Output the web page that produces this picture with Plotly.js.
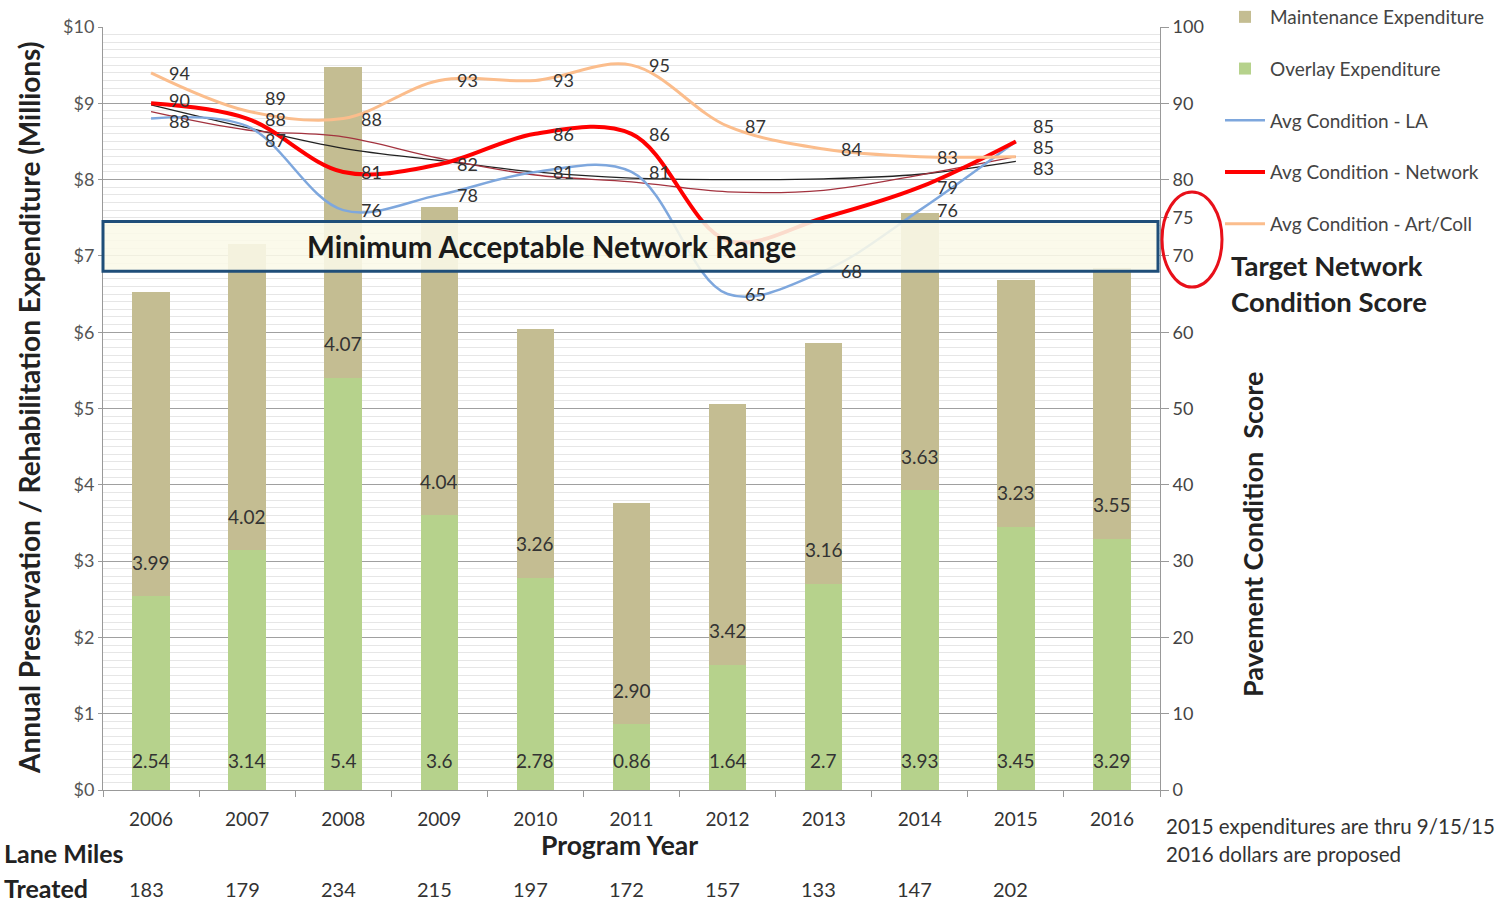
<!DOCTYPE html>
<html>
<head>
<meta charset="utf-8">
<script src="https://cdn.plot.ly/plotly-3.0.1.min.js"></script>
<style>
html,body{margin:0;padding:0;background:#fff;}
#chart{width:1499px;height:905px;}
</style>
</head>
<body>
<div id="chart"></div>
<script>
// ---- data ----
const years = ['2006','2007','2008','2009','2010','2011','2012','2013','2014','2015','2016'];
const overlayExp = [2.54, 3.14, 5.4, 3.6, 2.78, 0.86, 1.64, 2.7, 3.93, 3.45, 3.29];
const maintenanceExp = [3.99, 4.02, 4.07, 4.04, 3.26, 2.90, 3.42, 3.16, 3.63, 3.23, 3.55];

const lineYears = ['2006','2007','2008','2009','2010','2011','2012','2013','2014','2015'];
const condLA = [88, 87, 76, 78, 81, 81, 65, 68, 76, 85];
const condNetwork = [90, 88, 81, 82, 86, 86, 72, 75, 79, 85];
const condArtColl = [94, 89, 88, 93, 93, 95, 87, 84, 83, 83];
const trendA = [89.8, 86.8, 84.1, 82.5, 81.0, 80.2, 80.0, 80.1, 80.7, 82.4];
const trendB = [88.9, 86.5, 85.6, 82.8, 80.6, 79.7, 78.4, 78.6, 80.6, 83.0];

const laneMiles = [183, 179, 234, 215, 197, 172, 157, 133, 147, 202];
const leftTicks = [0,1,2,3,4,5,6,7,8,9,10];
const leftTickText = ['$0','$1','$2','$3','$4','$5','$6','$7','$8','$9','$10'];
const rightTicks = [0,10,20,30,40,50,60,70,75,80,90,100];
const rangeLow = 68, rangeHigh = 74.5;

const FONT = 'Lato, "Open Sans", sans-serif';

const traces = [
  {type:'bar', name:'Overlay Expenditure', x:years, y:overlayExp,
   marker:{color:'#b6d28c'}, legendrank:2, legendgroup:'g2', hoverinfo:'skip'},
  {type:'bar', name:'Maintenance Expenditure', x:years, y:maintenanceExp,
   marker:{color:'#c4bd92'}, legendrank:1, legendgroup:'g1', hoverinfo:'skip'},
  {type:'scatter', mode:'lines', x:lineYears, y:trendA, yaxis:'y2', showlegend:false,
   line:{color:'#222', width:1.3, shape:'spline'}, hoverinfo:'skip'},
  {type:'scatter', mode:'lines', x:lineYears, y:trendB, yaxis:'y2', showlegend:false,
   line:{color:'#a3323e', width:1.3, shape:'spline'}, hoverinfo:'skip'},
  {type:'scatter', mode:'lines', name:'Avg Condition - LA', x:lineYears, y:condLA, yaxis:'y2',
   line:{color:'#7ea7dd', width:2.5, shape:'spline'}, legendrank:3, legendgroup:'g3'},
  {type:'scatter', mode:'lines', name:'Avg Condition - Network', x:lineYears, y:condNetwork, yaxis:'y2',
   line:{color:'#ff0000', width:4, shape:'spline'}, legendrank:4, legendgroup:'g4'},
  {type:'scatter', mode:'lines', name:'Avg Condition - Art/Coll', x:lineYears, y:condArtColl, yaxis:'y2',
   line:{color:'#fbbd8c', width:3, shape:'spline'}, legendrank:5, legendgroup:'g5'}
];

const W = 1057, H = 763, L = 103, T = 27;
const px = x => (x - L) / W;
const py = y => (T + H - y) / H;
const pxPerUnit2 = H / 100;

const annotations = [];
function txt(o){ return Object.assign({showarrow:false, xanchor:'center', yanchor:'middle'}, o); }

// bar value labels (near base of each segment)
overlayExp.forEach((v, i) => {
  annotations.push(txt({x:i, y:0, xref:'x', yref:'y', text:String(v), yshift:30,
    font:{size:19, color:'#333', family:FONT}}));
});
maintenanceExp.forEach((v, i) => {
  annotations.push(txt({x:i, y:overlayExp[i], xref:'x', yref:'y', text:v.toFixed(2), yshift:34,
    font:{size:19, color:'#333', family:FONT}}));
});

// line value labels, spread apart where they would collide
const SPACING = 21;
lineYears.forEach((yr, i) => {
  const items = [condArtColl, condNetwork, condLA]
    .map(s => ({v:s[i], pos:-s[i] * pxPerUnit2}))
    .filter(it => !(it.v > rangeLow && it.v < rangeHigh + 1))
    .sort((a, b) => a.pos - b.pos);
  let groups = items.map(it => ({m:[it]}));
  const place = g => {
    const mean = g.m.reduce((a, b) => a + b.pos, 0) / g.m.length;
    const n = g.m.length;
    g.top = mean - (n - 1) / 2 * SPACING;
    g.bot = mean + (n - 1) / 2 * SPACING;
  };
  groups.forEach(place);
  let merged = true;
  while (merged) {
    merged = false;
    for (let k = 0; k < groups.length - 1; k++) {
      if (groups[k + 1].top - groups[k].bot < SPACING) {
        groups[k].m = groups[k].m.concat(groups[k + 1].m);
        groups.splice(k + 1, 1);
        place(groups[k]);
        merged = true;
        break;
      }
    }
  }
  groups.forEach(g => {
    g.m.forEach((it, k) => {
      const newPos = g.top + k * SPACING;
      annotations.push(txt({x:i, y:it.v, xref:'x', yref:'y2', text:String(it.v),
        xshift:28, yshift:-(newPos - it.pos), font:{size:18, color:'#333', family:FONT}}));
    });
  });
});

annotations.push(txt({x:px(551), y:(rangeLow + rangeHigh)/2, xref:'paper', yref:'y2',
  text:'<b>Minimum Acceptable Network Range</b>', font:{size:29.5, color:'#1a1a1a', family:FONT}}));
annotations.push(txt({x:px(29), y:py(408), xref:'paper', yref:'paper', textangle:-90,
  text:'<b>Annual Preservation / Rehabilitation Expenditure (Millions)</b>',
  font:{size:28, color:'#222', family:FONT}}));
annotations.push(txt({x:px(1252), y:py(535), xref:'paper', yref:'paper', textangle:-90,
  text:'<b>Pavement Condition  Score</b>', font:{size:27, color:'#222', family:FONT}}));
annotations.push(txt({x:px(619), y:py(845), xref:'paper', yref:'paper',
  text:'<b>Program Year</b>', font:{size:26.5, color:'#222', family:FONT}}));
annotations.push(txt({x:px(1229), y:py(265), xref:'paper', yref:'paper', xanchor:'left',
  text:'<b>Target Network</b>', font:{size:27.5, color:'#222', family:FONT}}));
annotations.push(txt({x:px(1229), y:py(301), xref:'paper', yref:'paper', xanchor:'left',
  text:'<b>Condition Score</b>', font:{size:27.5, color:'#222', family:FONT}}));
annotations.push(txt({x:px(2), y:py(853), xref:'paper', yref:'paper', xanchor:'left',
  text:'<b>Lane Miles</b>', font:{size:25, color:'#222', family:FONT}}));
annotations.push(txt({x:px(2), y:py(888), xref:'paper', yref:'paper', xanchor:'left',
  text:'<b>Treated</b>', font:{size:25, color:'#222', family:FONT}}));
laneMiles.forEach((m, i) => {
  annotations.push(txt({x:i, y:py(889), xref:'x', yref:'paper', text:String(m),
    xshift:-5, font:{size:20, color:'#333', family:FONT}}));
});
annotations.push(txt({x:px(1164), y:py(826), xref:'paper', yref:'paper', xanchor:'left',
  text:'2015 expenditures are thru 9/15/15', font:{size:20.5, color:'#333', family:FONT}}));
annotations.push(txt({x:px(1164), y:py(854), xref:'paper', yref:'paper', xanchor:'left',
  text:'2016 dollars are proposed', font:{size:20.5, color:'#333', family:FONT}}));

const shapes = [
  {type:'rect', xref:'paper', yref:'y2', x0:0.0, x1:px(1158), y0:rangeLow, y1:rangeHigh,
   line:{color:'#1f4e79', width:3}, fillcolor:'rgba(251,249,232,0.88)', layer:'above'},
  {type:'circle', xref:'paper', yref:'paper', x0:px(1162), x1:px(1222), y0:py(287), y1:py(192),
   line:{color:'#e8101a', width:3}}
];

const layout = {
  width:1499, height:905,
  margin:{l:L, r:1499-L-W, t:T, b:905-T-H, autoexpand:false},
  paper_bgcolor:'#fff', plot_bgcolor:'#fff',
  font:{family:FONT, color:'#444'},
  barmode:'stack', bargap:0.61,
  showlegend:true,
  legend:{x:px(1220), y:py(-2), xanchor:'left', yanchor:'top', bgcolor:'rgba(0,0,0,0)',
    font:{size:19, color:'#444', family:FONT}, tracegroupgap:24, itemwidth:40},
  xaxis:{type:'category', categoryorder:'array', categoryarray:years, showgrid:false,
    showline:true, linecolor:'#999', linewidth:1, ticks:'outside', tickson:'boundaries',
    ticklen:6, tickcolor:'#999', tickfont:{size:19, color:'#333', family:FONT}, range:[-0.5, 10.5],
    ticklabelstandoff:12},
  yaxis:{range:[0,10], tickvals:leftTicks, ticktext:leftTickText, showline:true, linecolor:'#999',
    ticks:'outside', ticklen:4, tickcolor:'#999', tickfont:{size:18, color:'#555', family:FONT},
    showgrid:true, gridcolor:'#a0a0a0', gridwidth:1, zeroline:false,
    minor:{dtick:0.2, showgrid:true, gridcolor:'#b4b4b4', gridwidth:1}},
  yaxis2:{range:[0,100], overlaying:'y', side:'right', tickvals:rightTicks, showline:true,
    linecolor:'#999', ticks:'outside', ticklen:8, tickcolor:'#999', showgrid:false, zeroline:false,
    tickfont:{size:18, color:'#444', family:FONT},
    minor:{dtick:1, showgrid:true, gridcolor:'#e6e6e6', gridwidth:1}},
  annotations:annotations,
  shapes:shapes
};

Plotly.newPlot('chart', traces, layout, {displayModeBar:false, staticPlot:true});
</script>
</body>
</html>
